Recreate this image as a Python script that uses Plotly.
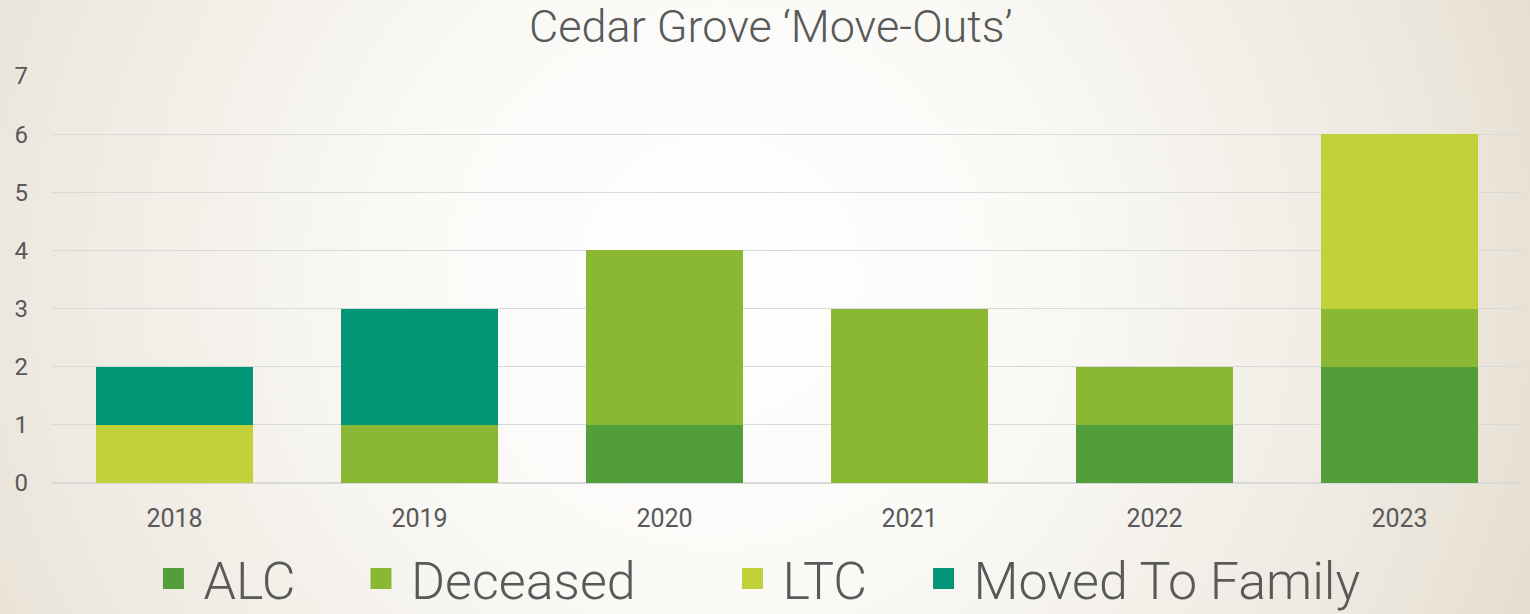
import base64
import plotly.graph_objects as go

years = ["2018", "2019", "2020", "2021", "2022", "2023"]
alc = [0, 0, 1, 0, 1, 2]
deceased = [0, 1, 3, 3, 1, 1]
ltc = [1, 0, 0, 0, 0, 3]
moved_to_family = [1, 2, 0, 0, 0, 0]

series = [
    ("ALC", alc, "#529E3A"),
    ("Deceased", deceased, "#8BB834"),
    ("LTC", ltc, "#C2D03A"),
    ("Moved To Family", moved_to_family, "#029677"),
]

W, H = 1530, 614
ML, MR, MT, MB = 52, 8, 76, 131
PW, PH = W - ML - MR, H - MT - MB

svg = f'''<svg xmlns="http://www.w3.org/2000/svg" width="{W}" height="{H}" viewBox="0 0 {W} {H}" preserveAspectRatio="none">
<defs><radialGradient id="g" cx="0.47" cy="0.45" r="0.62" gradientUnits="objectBoundingBox" gradientTransform="translate(0.47 0.45) scale(1 2.49) translate(-0.47 -0.45)">
<stop offset="0" stop-color="#FFFFFF"/><stop offset="0.35" stop-color="#FAF9F6"/><stop offset="0.75" stop-color="#EDE8DF"/><stop offset="1" stop-color="#E2D9C9"/></radialGradient></defs>
<rect x="0" y="0" width="{W}" height="{H}" fill="url(#g)"/></svg>'''
src = "data:image/svg+xml;base64," + base64.b64encode(svg.encode()).decode()

font_family = "Roboto, 'Open Sans', sans-serif"
legend_names = ["legend", "legend2", "legend3", "legend4"]
legend_x = [0.0622, 0.2034, 0.4561, 0.5861]

fig = go.Figure()
for (name, vals, color), lg in zip(series, legend_names):
    fig.add_trace(go.Bar(x=years, y=vals, name=name, legendgroup=name, showlegend=False,
                         marker=dict(color=color, line=dict(width=0))))
    # legend swatch entry (no data drawn)
    fig.add_trace(go.Scatter(x=[None], y=[None], mode="markers", name=name, legendgroup=name,
                             legend=lg, showlegend=True,
                             marker=dict(symbol="square", size=16, color=color,
                                         line=dict(color=color, width=5))))

legend_common = dict(orientation="h", y=-0.235, yanchor="middle", xanchor="left",
                     font=dict(family=font_family, size=52, color="#595959", weight=300),
                     itemwidth=50, bgcolor="rgba(0,0,0,0)", borderwidth=0)

layout_legends = {lg: dict(x=lx, **legend_common) for lg, lx in zip(legend_names, legend_x)}

fig.update_layout(
    width=W, height=H,
    barmode="stack", bargap=0.36,
    margin=dict(l=ML, r=MR, t=MT, b=MB, autoexpand=False),
    paper_bgcolor="#F3F0EA", plot_bgcolor="rgba(0,0,0,0)",
    title=dict(text="Cedar Grove \u2018Move-Outs\u2019", x=0.489, xref="paper", xanchor="center",
               y=0.958, yanchor="middle",
               font=dict(family=font_family, size=45, color="#595959", weight=300)),
    xaxis=dict(showgrid=False, showline=False, ticks="", ticklabelstandoff=18,
               tickfont=dict(family=font_family, size=25, color="#595959")),
    yaxis=dict(range=[0, 7], dtick=1, showgrid=True, gridcolor="#D9D9D9", gridwidth=1,
               zeroline=True, zerolinecolor="#D9D9D9", zerolinewidth=1.5,
               ticklabelstandoff=23,
               tickfont=dict(family=font_family, size=24, color="#595959")),
    images=[dict(source=src, xref="paper", yref="paper", x=-ML / PW, y=1 + MT / PH,
                 sizex=W / PW, sizey=H / PH, xanchor="left", yanchor="top",
                 sizing="stretch", layer="below")],
    showlegend=True,
    **layout_legends,
)

fig.write_html("out.html", config={"displayModeBar": False},
               post_script="document.body.style.margin='0';document.body.style.overflow='hidden';")
